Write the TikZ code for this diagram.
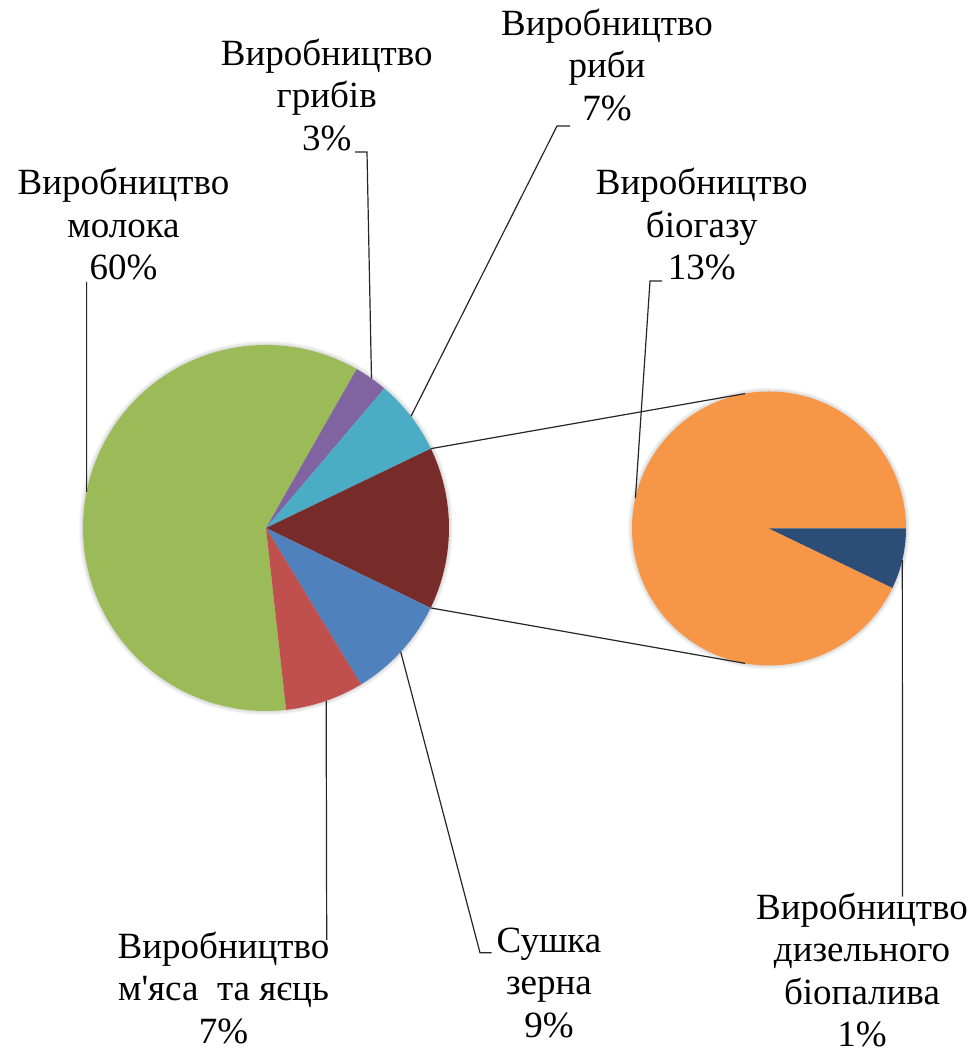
\documentclass[tikz,border=0pt]{standalone}
\usepackage{fontspec}
\setmainfont{LiberationSerif}[Extension=.ttf, UprightFont=*-Regular, Ligatures=TeXOff]
\usepackage{tikz}
\usetikzlibrary{calc}

\definecolor{milkgreen}{HTML}{9BBB59}
\definecolor{mushviolet}{HTML}{8064A2}
\definecolor{fishcyan}{HTML}{4BACC6}
\definecolor{restred}{HTML}{772C2A}
\definecolor{grainblue}{HTML}{4F81BD}
\definecolor{meatred}{HTML}{C0504D}
\definecolor{gasorange}{HTML}{F79646}
\definecolor{dieselblue}{HTML}{2C4D75}

\begin{document}
\begin{tikzpicture}
  [
    x = 0.5pt, y = 0.5pt,
    every node/.style = {font = \rmfamily\fontsize{18.5}{21.25}\selectfont,
                         align = center, inner sep = 0pt},
    leader/.style = {draw = black!85, line width = 0.6pt},
  ]
  \useasboundingbox (0,0) rectangle (973,1054);
  \coordinate (C1) at (266,526);   % main pie
  \coordinate (C2) at (769,525.5); % second pie

  % soft shadow
  \foreach \d in {1,...,4} {
    \fill [black, opacity = 0.035] (C1) circle (183+\d);
    \fill [black, opacity = 0.035] (C2) circle (137+\d);
  }

  \foreach \from/\to/\col in {60.3/276.3/milkgreen, 49.7/60.3/mushviolet,
      25.7/49.7/fishcyan, -25.9/25.7/restred, -58.7/-25.9/grainblue,
      -83.7/-58.7/meatred}
    \fill [\col] (C1) -- ([shift={(\from:183)}]C1)
      arc [start angle = \from, end angle = \to, radius = 183] -- cycle;

  \foreach \from/\to/\col in {0/334.3/gasorange, -25.7/0/dieselblue}
    \fill [\col] (C2) -- ([shift={(\from:137)}]C2)
      arc [start angle = \from, end angle = \to, radius = 137] -- cycle;

  % lines between the two pies
  \coordinate (A1) at ([shift={(25.7:183)}]C1);
  \coordinate (A2) at ([shift={(-25.9:183)}]C1);
  \coordinate (B1) at ([shift={(100:137)}]C2);
  \coordinate (B2) at ([shift={(260:137)}]C2);
  \draw [leader] (A1) -- (B1);
  \draw [leader] (A2) -- (B2);

  \node (Milk)   at (123.5,829.5) {Виробництво\\молока\\60\%};
  \node (Mush)   at (326.7,959)   {Виробництво\\грибів\\3\%};
  \node (Fish)   at (607,989)     {Виробництво\\риби\\7\%};
  \node (Biogas) at (701.7,829.5) {Виробництво\\біогазу\\13\%};
  \node (Meat)   at (223.5,66)    {Виробництво\\м'яса\ \ та яєць\\7\%};
  \node (Grain)  at (549,71.5)    {Сушка\\зерна\\9\%};
  \node (Diesel) at (862,84)      {Виробництво\\дизельного\\біопалива\\1\%};

  \coordinate (PMilk)   at ([shift={(168.6:183)}]C1);
  \coordinate (PMush)   at ([shift={(54.8:183)}]C1);
  \coordinate (PFish)   at ([shift={(37.6:183)}]C1);
  \coordinate (PMeat)   at ([shift={(-70.8:183)}]C1);
  \coordinate (PGrain)  at ([shift={(-42.6:183)}]C1);
  \coordinate (PBiogas) at ([shift={(167.2:137)}]C2);
  \coordinate (PDiesel) at ([shift={(-13.3:137)}]C2);

  \coordinate (KMilk)   at (86.6,772);
  \coordinate (KMush)   at (355,902);
  \coordinate (KFish)   at (570,928);
  \coordinate (KBiogas) at (662,773);
  \coordinate (KMeat)   at (326.7,114);
  \coordinate (KGrain)  at (491.7,101.3);
  \coordinate (KDiesel) at (902.5,157.3);

  \draw [leader] (KMilk) -- (PMilk);
  \draw [leader] (KMush) -- ++(12,0) -- (PMush);
  \draw [leader] (KFish) -- ++(-13,0) -- (PFish);
  \draw [leader] (KBiogas) -- ++(-12,0) -- (PBiogas);
  \draw [leader] (KMeat) -- (PMeat);
  \draw [leader] (KGrain) -- ++(-11.7,0) -- (PGrain);
  \draw [leader] (KDiesel) -- (PDiesel);
\end{tikzpicture}
\end{document}
